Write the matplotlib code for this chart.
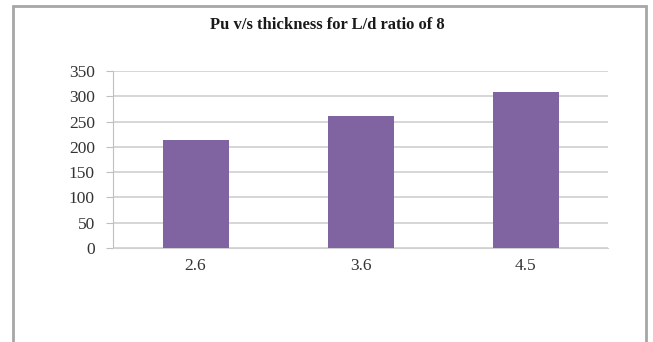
import matplotlib.pyplot as plt
from matplotlib.patches import Rectangle

# Pu values for each thickness
thickness = ["2.6", "3.6", "4.5"]
pu = [213, 262, 308]
y_ticks = [0, 50, 100, 150, 200, 250, 300, 350]

W, H = 653, 342
fig = plt.figure(figsize=(W / 100, H / 100), dpi=100)
plt.rcParams['font.family'] = ['Liberation Serif', 'DejaVu Serif']

# chart frame (runs off the bottom edge)
fig.patches.append(Rectangle((13 / W, -0.1), (646 - 13) / W, 1.1 - 6 / H,
                             transform=fig.transFigure, fill=False,
                             edgecolor='#a6a6a6', linewidth=2))

x0, x1 = 113, 608
y0, y1 = 248, 71
ax = fig.add_axes([x0 / W, 1 - y0 / H, (x1 - x0) / W, (y0 - y1) / H])

pos = range(len(thickness))
ax.bar(pos, pu, width=0.4, color='#8064A2', zorder=3)
ax.set_xlim(-0.5, len(thickness) - 0.5)
ax.set_ylim(0, 350)
ax.set_yticks(y_ticks)
ax.set_xticks(list(pos))
ax.set_xticklabels(thickness)
ax.grid(axis='y', color='#d0d0d0', linewidth=1.2, zorder=0)

for s in ['top', 'right']:
    ax.spines[s].set_visible(False)
ax.spines['left'].set_color('#bfbfbf')
ax.spines['bottom'].set_color('#d0d0d0')
ax.tick_params(axis='y', length=5, color='#bfbfbf', labelsize=12.5, labelcolor='#333333', pad=8)
ax.tick_params(axis='x', length=0, labelsize=12.5, labelcolor='#333333', pad=7)

fig.text(327 / W, 1 - 25 / H, "Pu v/s thickness for L/d ratio of 8",
         ha='center', va='center', fontsize=12, fontweight='bold', color='#1a1a1a')

fig.savefig("out.png", dpi=100)
